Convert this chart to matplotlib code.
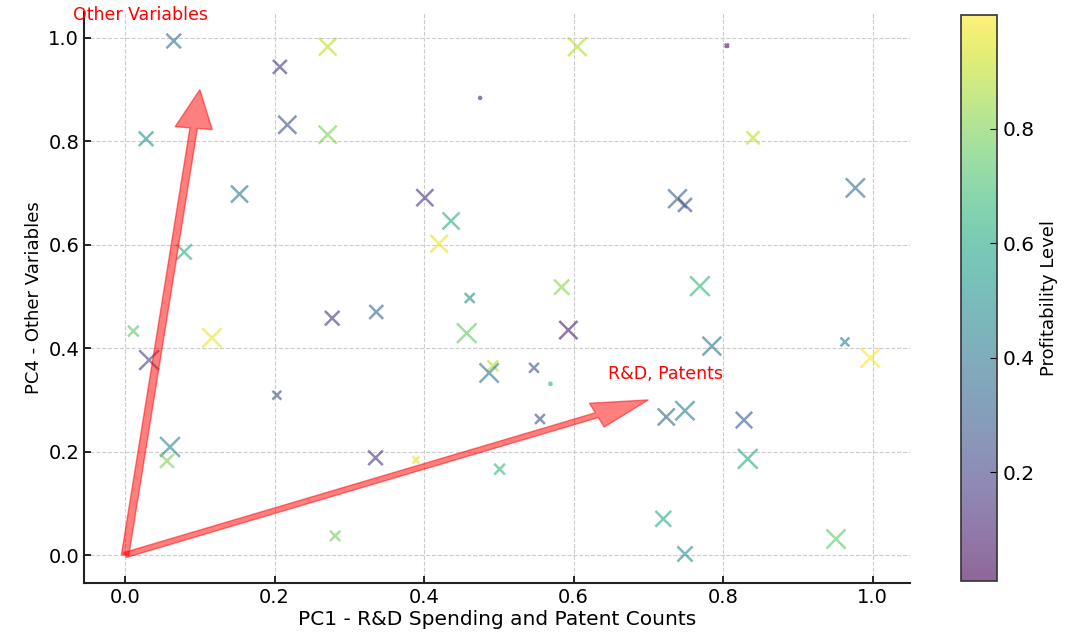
import matplotlib
matplotlib.use("Agg")
import matplotlib.pyplot as plt
import numpy as np

# PCA scores (PC1, PC4), profitability level and marker size
pc1 = [0.065, 0.271, 0.605, 0.207, 0.805, 0.475, 0.028, 0.217, 0.271, 0.840,
       0.153, 0.079, 0.401, 0.436, 0.420, 0.739, 0.749, 0.977, 0.011, 0.032,
       0.116, 0.277, 0.336, 0.461, 0.457, 0.492, 0.487, 0.547, 0.569, 0.584,
       0.593, 0.555, 0.769, 0.785, 0.963, 0.997, 0.203, 0.060, 0.056, 0.335,
       0.389, 0.501, 0.281, 0.724, 0.749, 0.828, 0.833, 0.720, 0.749, 0.951]
pc4 = [0.994, 0.983, 0.983, 0.944, 0.985, 0.884, 0.805, 0.832, 0.813, 0.807,
       0.698, 0.586, 0.691, 0.646, 0.602, 0.689, 0.677, 0.710, 0.433, 0.377,
       0.420, 0.458, 0.470, 0.497, 0.429, 0.366, 0.352, 0.362, 0.331, 0.518,
       0.435, 0.263, 0.520, 0.404, 0.412, 0.381, 0.309, 0.209, 0.182, 0.188,
       0.184, 0.166, 0.037, 0.267, 0.279, 0.261, 0.186, 0.070, 0.002, 0.031]
profit = [0.36, 0.90, 0.88, 0.16, 0.03, 0.10, 0.50, 0.25, 0.80, 0.90,
          0.38, 0.62, 0.15, 0.62, 0.96, 0.30, 0.25, 0.36, 0.74, 0.20,
          0.97, 0.15, 0.33, 0.50, 0.76, 0.88, 0.40, 0.26, 0.66, 0.82,
          0.08, 0.25, 0.66, 0.38, 0.42, 0.99, 0.24, 0.46, 0.80, 0.15,
          0.95, 0.66, 0.78, 0.32, 0.42, 0.28, 0.60, 0.62, 0.50, 0.74]
sizes = [110, 160, 180, 100, 8, 5, 110, 170, 170, 90,
         150, 120, 150, 150, 160, 180, 100, 190, 60, 200,
         190, 110, 100, 50, 200, 60, 190, 50, 6, 120,
         170, 50, 200, 180, 40, 190, 40, 200, 100, 110,
         25, 60, 55, 150, 190, 140, 200, 130, 120, 190]

# loading vectors
vectors = [(0.7, 0.3), (0.1, 0.9)]
vec_labels = ["R&D, Patents", "Other Variables"]
label_pos = [(0.723, 0.35), (0.02, 1.045)]

plt.rcParams['font.family'] = 'DejaVu Sans'

fig = plt.figure(figsize=(10.69, 6.35), dpi=100)
ax = fig.add_axes([0.0786, 0.082, 0.7726, 0.899])
cax = fig.add_axes([0.899, 0.085, 0.034, 0.891])

sc = ax.scatter(pc1, pc4, c=profit, s=sizes, cmap='viridis', marker='x',
                alpha=0.6, vmin=0.01, vmax=0.998, linewidths=1.8, zorder=3)

for (dx, dy), lab, (tx, ty) in zip(vectors, vec_labels, label_pos):
    ax.arrow(0, 0, dx, dy, color='r', alpha=0.5, width=0.01,
             head_width=0.05, head_length=0.075, length_includes_head=True,
             zorder=4)
    ax.text(tx, ty, lab, color='red', fontsize=12.5, ha='center', va='center')

ax.set_xlim(-0.055, 1.05)
ax.set_ylim(-0.054, 1.05)
ax.set_xticks(np.arange(0, 1.01, 0.2))
ax.set_yticks(np.arange(0, 1.01, 0.2))
ax.grid(True, linestyle='--', color='#cccccc', linewidth=0.8)
ax.set_axisbelow(True)
for s in ['top', 'right']:
    ax.spines[s].set_visible(False)
for s in ['left', 'bottom']:
    ax.spines[s].set_linewidth(1.5)
    ax.spines[s].set_color('#222222')
ax.tick_params(direction='in', labelsize=14, length=5, width=1.2)
ax.set_xlabel("PC1 - R&D Spending and Patent Counts", fontsize=14.5, labelpad=2)
ax.set_ylabel("PC4 - Other Variables", fontsize=13)

cb = fig.colorbar(sc, cax=cax)
cb.set_ticks([0.2, 0.4, 0.6, 0.8])
cb.ax.tick_params(direction='in', labelsize=14.5, length=5)
cb.outline.set_edgecolor('#333333')
cb.outline.set_linewidth(1.2)
cb.set_label("Profitability Level", fontsize=13)

fig.savefig("out.png", dpi=100)
